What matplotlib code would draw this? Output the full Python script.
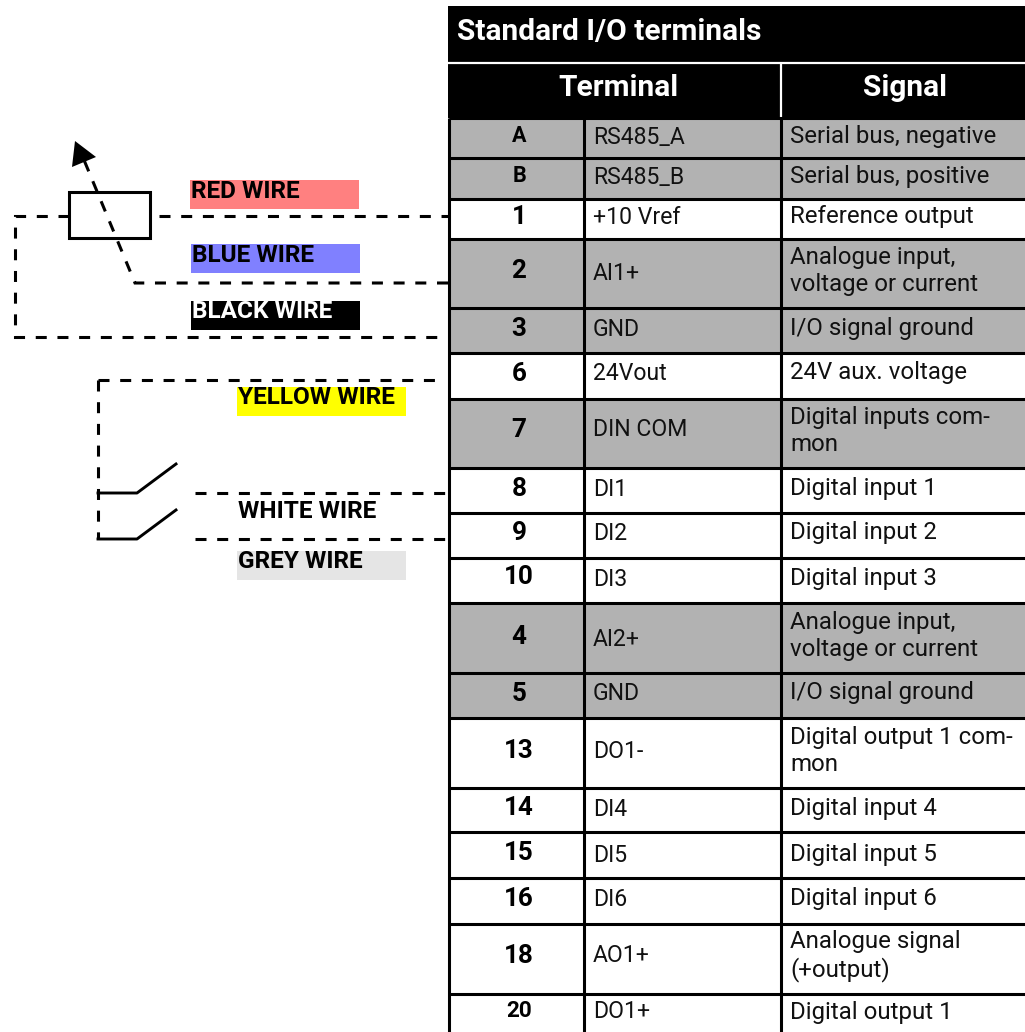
import matplotlib
matplotlib.use("Agg")
import matplotlib.pyplot as plt
from matplotlib.patches import Rectangle, Polygon

plt.rcParams['font.family'] = ['Roboto', 'DejaVu Sans']

# ---- table content
title = "Standard I/O terminals"
col_headers = ["Terminal", "Signal"]
terminals = ["A", "B", "1", "2", "3", "6", "7", "8", "9", "10", "4", "5", "13", "14", "15", "16", "18", "20"]
names = ["RS485_A", "RS485_B", "+10 Vref", "AI1+", "GND", "24Vout", "DIN COM", "DI1", "DI2", "DI3",
         "AI2+", "GND", "DO1-", "DI4", "DI5", "DI6", "AO1+", "DO1+"]
signals = ["Serial bus, negative", "Serial bus, positive", "Reference output",
           "Analogue input,\nvoltage or current", "I/O signal ground", "24V aux. voltage",
           "Digital inputs com-\nmon", "Digital input 1", "Digital input 2", "Digital input 3",
           "Analogue input,\nvoltage or current", "I/O signal ground",
           "Digital output 1 com-\nmon", "Digital input 4", "Digital input 5", "Digital input 6",
           "Analogue signal\n(+output)", "Digital output 1"]
shaded = [1, 1, 0, 1, 1, 0, 1, 0, 0, 0, 1, 1, 0, 0, 0, 0, 0, 0]
wire_labels = ["RED WIRE", "BLUE WIRE", "BLACK WIRE", "YELLOW WIRE", "WHITE WIRE", "GREY WIRE"]
wire_colors = ["#FF8080", "#8080FF", "#000000", "#FFFF00", "#FFFFFF", "#E5E5E5"]
wire_text = ["black", "black", "white", "black", "black", "black"]

# ---- layout (pixels)
row_edges = [118, 158, 199, 239, 308, 353, 399, 468, 513, 558, 603, 673, 718, 788, 832, 878, 924, 994, 1032]
term_y = [136, 176, 217, 271, 329, 374, 430, 489, 533, 577, 637, 694, 751, 808, 853, 899, 956, 1011]
name_y = [137, 177, 217, 274, 329, 374, 430, 489, 534, 579, 639, 694, 752, 809, 855, 900, 956, 1012]
sig_y = [136, 176, 216, 271, 328, 373, 431, 488, 533, 578, 636, 693, 751, 808, 854, 899, 956, 1012]
X0, X1, X2, X3 = 449, 584, 781, 1025
wire_boxes = [(190, 180), (191, 244), (191, 301), (237, 387), (237, 0), (237, 551)]
wire_text_y = [191, 255, 312, 397, 511, 561]
BOX_W, BOX_H = 169, 29

fig = plt.figure(figsize=(10.25, 10.32), dpi=100)
ax = fig.add_axes([0, 0, 1, 1])
ax.set_xlim(0, 1025)
ax.set_ylim(1032, 0)
ax.axis("off")

LW = 2.2

# table
ax.add_patch(Rectangle((X0 - 1, 6), X3 - X0 + 1, 112, fc="black", ec="none"))
ax.plot([X0 - 1, X3], [63, 63], color="white", lw=1.6, solid_capstyle="butt")
ax.plot([X2, X2], [63, 118], color="white", lw=1.6, solid_capstyle="butt")
ax.text(457, 32, title, color="white", fontsize=21.5, fontweight="bold", va="center", ha="left")
ax.text(618, 88, col_headers[0], color="white", fontsize=21.5, fontweight="bold", va="center", ha="center")
ax.text(905, 88, col_headers[1], color="white", fontsize=21.5, fontweight="bold", va="center", ha="center")

for i in range(len(terminals)):
    y0, y1 = row_edges[i], row_edges[i + 1]
    if shaded[i]:
        ax.add_patch(Rectangle((X0, y0), X3 - X0, y1 - y0, fc="#B2B2B2", ec="none"))
    t = terminals[i]
    fs = 15.5 if t in ("A", "B") else 16.2 if t == "20" else 18.7
    ax.text(519, term_y[i], t, fontsize=fs, fontweight="bold", ha="center", va="center")
    ax.text(593, name_y[i], names[i], fontsize=16.6, ha="left", va="center", color="#111111")
    ax.text(790, sig_y[i], signals[i], fontsize=17.3, ha="left", va="center", linespacing=1.23, color="#111111")

for y in row_edges[:-1]:
    ax.plot([X0, X3], [y, y], color="black", lw=LW, solid_capstyle="butt")
for x in (X0, X1, X2):
    ax.plot([x, x], [118, 1032], color="black", lw=LW, solid_capstyle="butt")

# colour-coded wire labels
for lab, col, tc, (bx, by), ty in zip(wire_labels, wire_colors, wire_text, wire_boxes, wire_text_y):
    if col != "#FFFFFF":
        ax.add_patch(Rectangle((bx, by), BOX_W, BOX_H, fc=col, ec="none"))
    ax.text(bx + 1, ty, lab, color=tc, fontsize=17.6, fontweight="bold", ha="left", va="center")

# wiring
dash = (0, (3.6, 3.5))
def wire(xs, ys):
    ax.plot(xs, ys, color="black", lw=LW, linestyle=dash, dash_capstyle="butt", dash_joinstyle="miter")

wire([69, 15, 15, 439], [216, 216, 337, 337])
wire([159, 448], [216, 216])
wire([448, 135, 84], [283, 283, 160])
wire([98, 445], [380, 380])
wire([98, 98], [380, 539])
wire([195, 448], [493, 493])
wire([195, 448], [539, 539])
ax.add_patch(Rectangle((69, 192), 81, 45.5, fc="none", ec="black", lw=LW))
ax.add_patch(Polygon([(75, 141), (96, 157), (72, 167)], closed=True, fc="black", ec="none"))
for y in (493, 539):
    ax.plot([98, 137, 176], [y, y, y - 29], color="black", lw=LW * 0.95, solid_joinstyle="round")

fig.savefig("out.png", dpi=100, facecolor="white")
